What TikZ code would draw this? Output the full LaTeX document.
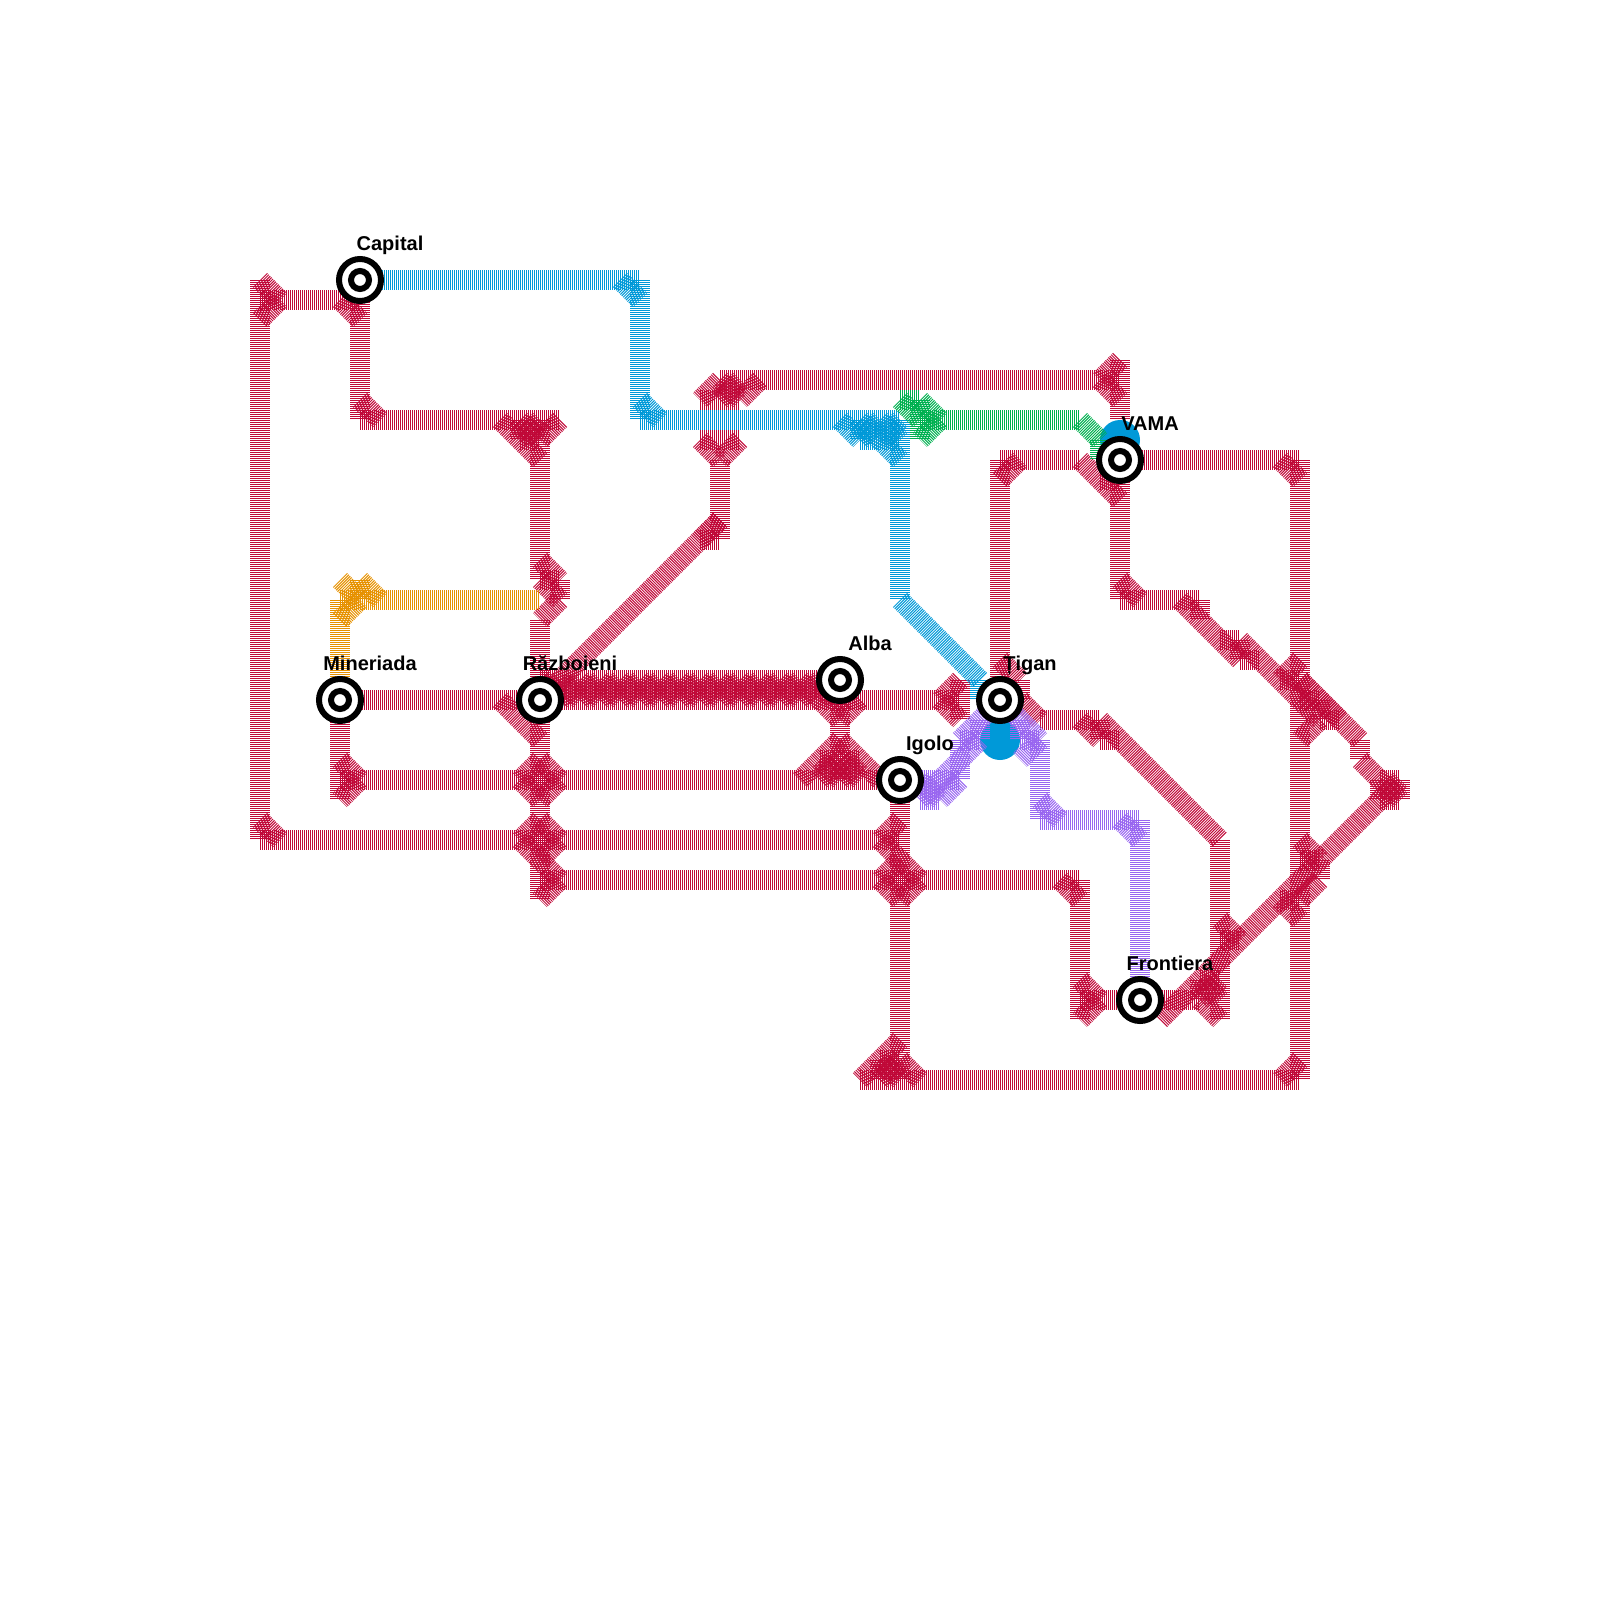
\documentclass[tikz,border=0pt]{standalone}
\usepackage{fontspec}
\setmainfont{Liberation Sans}
\definecolor{railred}{RGB}{192, 8, 56}
\definecolor{railblue}{RGB}{0, 153, 216}
\definecolor{railgreen}{RGB}{0, 176, 80}
\definecolor{railorange}{RGB}{230, 145, 0}
\definecolor{railpurple}{RGB}{153, 102, 240}
\tikzset{
    rail/.style={line width=20pt, dash pattern=on 1pt off 1pt},
    station/.style={circle, draw=black, fill=white, line width=6pt, outer sep=0pt, minimum size=42pt, inner sep=0pt},
    stationin/.style={circle, draw=black, fill=white, line width=6pt, outer sep=0pt, minimum size=18pt, inner sep=0pt},
    stationlb/.style={anchor=base, font=\bfseries\fontsize{20pt}{20pt}\selectfont, inner sep=0pt},
    stop/.style={circle, fill=railblue, minimum size=40pt, inner sep=0pt, outer sep=0pt}
}

\begin{document}
\begin{tikzpicture}[x=1pt, y=-1pt]
    \useasboundingbox (0,0) rectangle (1600,1600);

    % Grid points, 20 apart
    \foreach \i in {13,...,71} {
        \foreach \j in {14,...,54} {
            \coordinate (p\i-\j) at (\i*20, \j*20);
        }
    }

    % Red lines
    \foreach \a/\b in {13-14/13-42, 13-15/18-15, 13-14/14-15, 13-16/14-15, 17-15/18-16,
        18-15/18-21, 18-20/19-21, 18-21/28-21, 25-21/27-23, 28-21/27-22, 26-21/27-22,
        26-22/27-21, 26-21/26-22, 26-22/27-22, 27-21/27-29, 27-28/28-29, 27-29/28-30,
        28-30/27-31, 27-29/28-29, 28-29/28-30, 27-31/27-45, 17-35/42-35, 27-34/42-34,
        25-35/27-37, 36-26/27-35, 36-23/36-27, 35-27/36-27, 36-26/35-27, 35-22/37-22,
        35-22/36-23, 37-22/36-23, 35-20/37-20, 36-19/35-20, 36-19/37-20, 36-20/37-19,
        38-19/37-20, 36-19/56-19, 56-18/55-19, 55-19/56-20, 56-18/56-21, 50-23/54-23,
        50-24/51-23, 50-23/50-35, 54-23/56-25, 56-23/56-30, 55-24/56-24, 56-23/65-23,
        64-23/65-24, 65-23/65-54, 56-29/57-30, 56-30/60-30, 59-30/62-33, 60-30/60-31,
        61-32/62-32, 62-32/62-33, 62-33/63-33, 62-32/65-35, 65-33/64-34, 64-34/65-34,
        65-34/68-37, 65-34/65-35, 65-35/66-35, 66-35/66-36, 66-36/67-36, 65-34/66-35,
        65-35/66-36, 66-35/67-36, 66-36/65-37, 68-37/68-38, 68-38/69-39, 69-39/70-39,
        69-40/70-40, 69-39/69-40, 70-39/70-40, 69-39/70-40, 69-40/70-39, 69-40/58-51,
        65-42/66-43, 65-43/66-43, 66-43/66-44, 66-44/65-45, 64-45/65-45, 64-45/65-46,
        61-46/62-47, 61-47/62-47, 60-49/61-50, 60-50/61-51, 60-50/61-49, 60-49/61-49,
        60-49/60-50, 61-42/61-51, 57-50/60-50, 55-36/61-42, 52-36/55-36, 54-36/55-37,
        55-36/55-37, 55-37/56-37, 51-35/52-36, 50-33/51-34, 51-34/51-35, 42-35/48-35,
        48-34/47-35, 47-35/48-36, 48-34/48-36, 41-35/42-36, 43-35/42-36, 42-34/42-39,
        42-37/40-39, 42-37/44-39, 41-38/42-39, 42-39/43-38, 41-39/42-38, 42-38/43-39,
        41-38/43-38, 17-35/17-40, 17-38/18-39, 18-39/17-40, 17-39/45-39, 13-42/45-42,
        13-41/14-42, 27-38/26-39, 26-39/27-40, 27-38/28-39, 28-39/27-40, 27-41/26-42,
        26-42/27-43, 27-41/28-42, 28-42/27-43, 27-43/28-44, 28-44/27-45, 27-44/54-44,
        45-39/45-54, 45-41/44-42, 44-42/45-43, 45-43/44-44, 44-44/45-45, 45-43/46-44,
        46-44/45-45, 53-44/54-45, 54-44/54-51, 54-49/55-50, 55-50/54-51, 54-50/57-50,
        45-52/43-54, 43-54/65-54, 45-53/46-54, 44-53/45-54, 44-54/45-53, 44-53/45-53,
        44-53/44-54, 65-53/64-54} {
        \draw[rail, railred] (p\a) -- (p\b);
    }

    % Thick red band
    \foreach \i in {27,...,41} {
        \pgfmathtruncatemacro{\k}{\i+1}
        \draw[rail, railred] (p\i-34) -- (p\k-35);
        \draw[rail, railred] (p\i-35) -- (p\k-34);
    }

    % Blue line
    \foreach \a/\b in {18-14/32-14, 32-14/32-21, 31-14/32-15, 32-20/33-21, 32-21/45-21,
        42-21/43-22, 43-21/43-22, 43-21/44-22, 43-22/45-22, 43-22/44-21, 44-22/45-21,
        44-22/45-23, 44-21/45-22, 45-21/45-30, 45-30/49-34, 49-34/49-35} {
        \draw[rail, railblue] (p\a) -- (p\b);
    }
    \node[stop] (stopa) at (p56-22) {};
    \node[stop] (stopb) at (p50-37) {};

    % Green line
    \foreach \a/\b in {45-20/46-20, 45-20/46-21, 46-20/47-21, 47-21/46-22, 46-20/46-22,
        46-21/54-21, 54-21/55-22, 55-22/55-23} {
        \draw[rail, railgreen] (p\a) -- (p\b);
    }

    % Orange line
    \foreach \a/\b in {17-30/27-30, 17-30/17-35, 17-31/18-30, 17-29/18-30, 18-29/19-30,
        18-29/18-30} {
        \draw[rail, railorange] (p\a) -- (p\b);
    }

    % Purple line
    \foreach \a/\b in {45-39/48-39, 46-40/47-40, 46-39/47-40, 46-40/47-39, 48-39/47-40,
        47-39/49-37, 48-37/49-36, 48-37/48-39, 48-37/49-37, 49-36/49-37, 49-36/50-35,
        50-35/51-36, 51-36/52-37, 52-37/51-38, 51-36/51-37, 51-37/52-37, 52-37/52-41,
        52-40/53-41, 52-41/57-41, 56-41/57-42, 57-41/57-50} {
        \draw[rail, railpurple] (p\a) -- (p\b);
    }

    % Stations
    \foreach \name/\pos/\txt in {capital/18-14/Capital, mineriada/17-35/Mineriada,
        razboieni/27-35/Războieni, alba/42-34/Alba, tigan/50-35/Țigan, igolo/45-39/Igolo,
        vama/56-23/VAMA, frontiera/57-50/Frontiera} {
        \node[station] (\name) at (p\pos) {};
        \node[stationin] (\name in) at (p\pos) {};
        \node[stationlb] (\name lb) at ([shift={(30,-30)}]p\pos) {\txt};
    }
\end{tikzpicture}
\end{document}
